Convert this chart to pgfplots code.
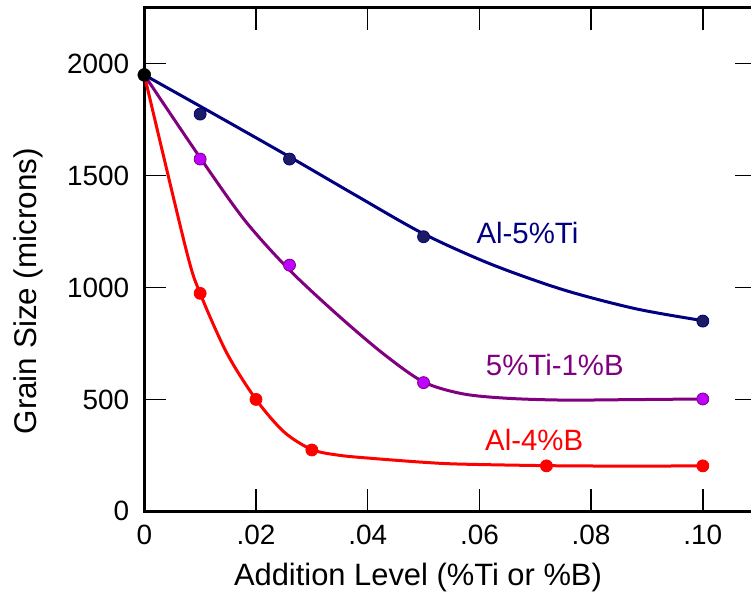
\documentclass[border=0pt]{standalone}
\usepackage{pgfplots}
\pgfplotsset{compat=1.18}
\usepackage{fontspec}
\setmainfont{Liberation Sans}
\definecolor{navyc}{RGB}{0,0,128}
\definecolor{navyfill}{RGB}{28,28,100}
\definecolor{purpc}{RGB}{128,0,128}
\definecolor{purpfill}{RGB}{190,0,255}
\definecolor{redc}{RGB}{255,0,0}
\begin{document}
\begin{tikzpicture}
\useasboundingbox (-144.3bp,-86.7bp) rectangle (606.7bp,511.3bp);
\begin{axis}[
  at={(0,0)}, anchor=south west,
  width=612.7bp, height=503.5bp, scale only axis,
  xmin=0, xmax=0.1097, ymin=0, ymax=2250,
  scaled x ticks=false, scaled y ticks=false,
  xtick={0,0.02,0.04,0.06,0.08,0.1}, xticklabels={0,.02,.04,.06,.08,.10},
  ytick={0,500,1000,1500,2000}, yticklabels={0,500,1000,1500,2000},
  tick align=inside,
  major tick length=22bp,
  tick style={black, line width=1.5bp},
  axis line style={line width=3bp},
  ticklabel style={font=\fontsize{28}{34}\selectfont, inner sep=0pt},
  xticklabel style={yshift=-13.5bp},
  yticklabel style={xshift=-15bp},
  clip=false,
]
% curves
\addplot[redc, line width=3bp, smooth] coordinates {
(0,1950) (0.0075,1168) (0.01,974) (0.0148,706) (0.02,500) (0.025,355) (0.03,276)
(0.035,250) (0.041,236) (0.05,219) (0.0565,211) (0.072,204) (0.086,202) (0.1,203)};
\addplot[purpc, line width=3bp, smooth] coordinates {
(0,1950) (0.01,1580) (0.018,1300) (0.026,1078) (0.035,869) (0.043,700) (0.05,578)
(0.057,525) (0.065,505) (0.075,497) (0.087,499) (0.1,502)};
\addplot[navyc, line width=3bp, smooth] coordinates {
(0,1950) (0.0125,1775) (0.026,1584) (0.038,1410) (0.05,1240) (0.062,1105) (0.075,990)
(0.088,905) (0.1,852)};
% markers
\addplot[only marks, mark=*, mark size=6bp, mark options={fill=redc, draw=redc, line width=0.8bp}]
coordinates {(0.01,974) (0.02,500) (0.03,274) (0.072,203) (0.1,203)};
\addplot[only marks, mark=*, mark size=6bp, mark options={fill=purpfill, draw=purpc, line width=0.8bp}]
coordinates {(0.01,1574) (0.026,1100) (0.05,575) (0.1,502)};
\addplot[only marks, mark=*, mark size=6bp, mark options={fill=navyfill, draw=navyc, line width=0.8bp}]
coordinates {(0.01,1775) (0.026,1574) (0.05,1227) (0.1,850)};
\addplot[only marks, mark=*, mark size=6.5bp, mark options={fill=black, draw=black}]
coordinates {(0,1950)};
% annotations
\node[anchor=base, inner sep=0pt, text=navyc, font=\fontsize{29.5}{35}\selectfont] at (axis cs:0.0686,1197) {Al-5\%Ti};
\node[anchor=base, inner sep=0pt, text=purpc, font=\fontsize{29.5}{35}\selectfont] at (axis cs:0.0735,609) {5\%Ti-1\%B};
\node[anchor=base, inner sep=0pt, text=redc, font=\fontsize{29.5}{35}\selectfont] at (axis cs:0.0698,273) {Al-4\%B};
% axis labels
\node[inner sep=0pt, font=\fontsize{31}{36}\selectfont] at (axis cs:0.049,-296) {Addition Level (\%Ti or \%B)};
\node[inner sep=0pt, rotate=90, font=\fontsize{31.5}{36}\selectfont] at (axis cs:-0.02082,983) {Grain Size (microns)};
\end{axis}
\end{tikzpicture}
\end{document}
